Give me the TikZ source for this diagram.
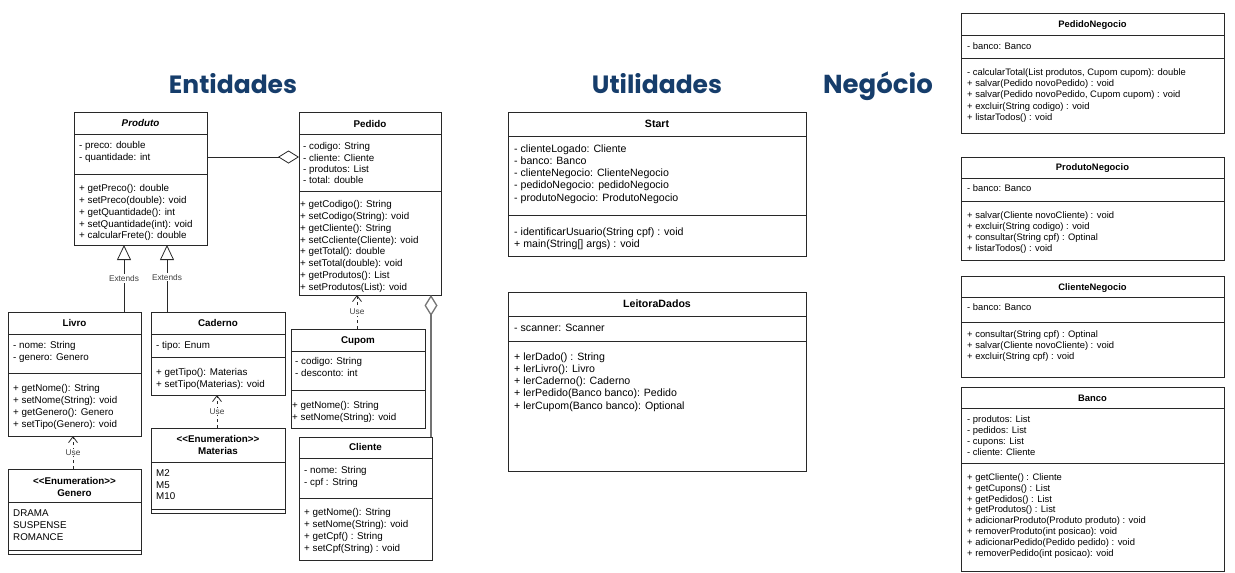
\documentclass[tikz,border=0pt]{standalone}
\usepackage{fontspec}
\setmainfont{Liberation Sans}
\newfontfamily\titlefont{Poppins}
\usetikzlibrary{arrows.meta}
\definecolor{ttlblue}{RGB}{22,61,107}
\definecolor{lncol}{RGB}{40,40,40}
\newcommand\umlbox[7]{%
  \node[cbox, minimum width={#3-#2}, minimum height={#7-#4}] (#1) at (#2,#4) {};
  \draw[sep] (#2,#5) -- (#3,#5);
  \draw[sep] (#2,#6) -- (#3,#6);
}
\newcommand\enumhdr{<\kern0pt<Enumeration>\kern0pt>}
\begin{document}
\begin{tikzpicture}[x=1pt,y=-1pt,
  cbox/.style={draw=lncol, line width=0.8pt, fill=white, anchor=north west, inner sep=0pt, outer sep=0pt},
  sep/.style={draw=lncol, line width=0.8pt},
  fE/.style={font=\fontsize{9.8}{11.8}\selectfont},
  fS/.style={font=\fontsize{10.6}{12.2}\selectfont},
  fN/.style={font=\fontsize{9.4}{11}\selectfont},
  txt/.style={anchor=north west, inner sep=0pt, align=left, execute at begin node={\rule{0pt}{7.2pt}}},
  hdr/.style={anchor=base, inner sep=0pt, align=center},
  hdr2/.style={anchor=north, inner sep=0pt, align=center, execute at begin node={\rule{0pt}{7.2pt}}},
  sectitle/.style={anchor=base, inner sep=0pt, text=ttlblue, font=\titlefont\bfseries\fontsize{25}{25}\selectfont},
  conn/.style={draw=lncol, line width=0.8pt},
  ext/.style={conn, -{Triangle[open, length=15pt, width=14pt]}},
  agg/.style={conn, -{Diamond[open, length=21pt, width=13pt]}},
  use/.style={conn, dash pattern=on 3pt off 3pt, -{Straight Barb[length=6pt, width=9pt]}},
  lbl/.style={fill=white, inner sep=1pt, text=black!75, font=\fontsize{8.3}{9}\selectfont},
]
\useasboundingbox (0,0) rectangle (1235,573);

% section titles
\node[sectitle] (tEnt) at (233,93) {Entidades};
\node[sectitle] (tUti) at (657,93) {Utilidades};
\node[sectitle, font=\titlefont\bfseries\fontsize{26}{26}\selectfont] (tNeg) at (878,93) {Negócio};

% ---------- Produto
\umlbox{produto}{74}{207}{112}{134}{174}{245}
\node[hdr, fE] (produto-t) at (140.5,126.5) {\textbf{\textit{Produto}}};
\node[txt, fE] (produto-a) at (79,141.4) {- preco: double\\- quantidade: int};
\node[txt, fE] (produto-m) at (79,184.4) {+ getPreco(): double\\+ setPreco(double): void\\+ getQuantidade(): int\\+ setQuantidade(int): void\\+ calcularFrete(): double};

% ---------- Pedido
\umlbox{pedido}{299}{441}{112}{134}{191}{295}
\node[hdr, fE] (pedido-t) at (370,127.5) {\textbf{Pedido}};
\node[txt, fE, font=\fontsize{9.8}{11.3}\selectfont] (pedido-a) at (303,142.4) {- codigo: String\\- cliente: Cliente\\- produtos: List\\- total: double};
\node[txt, fE] (pedido-m) at (300,200.4) {+ getCodigo(): String\\+ setCodigo(String): void\\+ getCliente(): String\\+ setCcliente(Cliente): void\\+ getTotal(): double\\+ setTotal(double): void\\+ getProdutos(): List\\+ setProdutos(List): void};

% ---------- Livro
\umlbox{livro}{8}{141}{312}{334}{373}{436}
\node[hdr, fE] (livro-t) at (74.5,326.5) {\textbf{Livro}};
\node[txt, fE] (livro-a) at (13,341.4) {- nome: String\\- genero: Genero};
\node[txt, fE] (livro-m) at (13,384.4) {+ getNome(): String\\+ setNome(String): void\\+ getGenero(): Genero\\+ setTipo(Genero): void};

% ---------- Caderno
\umlbox{caderno}{151}{285}{312}{334}{357}{395}
\node[hdr, fE] (caderno-t) at (218,326.5) {\textbf{Caderno}};
\node[txt, fE] (caderno-a) at (156,341.4) {- tipo: Enum};
\node[txt, fE] (caderno-m) at (156,368.4) {+ getTipo(): Materias\\+ setTipo(Materias): void};

% ---------- Genero
\umlbox{genero}{8}{141}{469}{502}{550}{554}
\node[hdr2, fE, font=\fontsize{9.8}{11.5}\selectfont] (genero-t) at (74.5,477.4) {\textbf{\enumhdr}\\\textbf{Genero}};
\node[txt, fE, font=\fontsize{9.8}{12}\selectfont] (genero-v) at (13,509.4) {DRAMA\\SUSPENSE\\ROMANCE};

% ---------- Materias
\umlbox{materias}{151}{285}{428}{462}{509}{513}
\node[hdr2, fE, font=\fontsize{9.8}{11.8}\selectfont] (materias-t) at (218,435.4) {\textbf{\enumhdr}\\\textbf{Materias}};
\node[txt, fE, font=\fontsize{9.8}{11.6}\selectfont] (materias-v) at (156,469.4) {M2\\M5\\M10};

% ---------- Cupom
\umlbox{cupom}{291}{425}{329}{351}{390}{428}
\node[hdr, fE] (cupom-t) at (358,343.5) {\textbf{Cupom}};
\node[txt, fE] (cupom-a) at (295,357.4) {- codigo: String\\- desconto: int};
\node[txt, fE] (cupom-m) at (292,401.4) {+ getNome(): String\\+ setNome(String): void};

% ---------- Cliente
\umlbox{cliente}{299}{432}{437}{458}{498}{560}
\node[hdr, fE] (cliente-t) at (365.5,450.5) {\textbf{Cliente}};
\node[txt, fE, font=\fontsize{9.8}{11.3}\selectfont] (cliente-a) at (304,466.4) {- nome: String\\- cpf : String};
\node[txt, fE] (cliente-m) at (304,508.4) {+ getNome(): String\\+ setNome(String): void\\+ getCpf() : String\\+ setCpf(String) : void};

% ---------- Start
\umlbox{start}{508}{806}{112}{136}{215}{256}
\node[hdr, fS] (start-t) at (657,127.8) {\textbf{Start}};
\node[txt, fS] (start-a) at (514,144.4) {- clienteLogado: Cliente\\- banco: Banco\\- clienteNegocio: ClienteNegocio\\- pedidoNegocio: pedidoNegocio\\- produtoNegocio: ProdutoNegocio};
\node[txt, fS] (start-m) at (514,227.4) {- identificarUsuario(String cpf) : void\\+ main(String[] args) : void};

% ---------- LeitoraDados
\umlbox{leitora}{508}{806}{292}{316}{341}{471}
\node[hdr, fS] (leitora-t) at (657,307.8) {\textbf{LeitoraDados}};
\node[txt, fS] (leitora-a) at (514,323.4) {- scanner: Scanner};
\node[txt, fS] (leitora-m) at (514,352.4) {+ lerDado() : String\\+ lerLivro(): Livro\\+ lerCaderno(): Caderno\\+ lerPedido(Banco banco): Pedido\\+ lerCupom(Banco banco): Optional};

% ---------- PedidoNegocio
\umlbox{pedneg}{961}{1224}{13}{35}{58}{133}
\node[hdr, fN] (pedneg-t) at (1092.5,27.3) {\textbf{PedidoNegocio}};
\node[txt, fN] (pedneg-a) at (967,42.4) {- banco: Banco};
\node[txt, fN, font=\fontsize{9.4}{11.2}\selectfont] (pedneg-m) at (967,68.4) {- calcularTotal(List produtos, Cupom cupom): double\\+ salvar(Pedido novoPedido) : void\\+ salvar(Pedido novoPedido, Cupom cupom) : void\\+ excluir(String codigo) : void\\+ listarTodos() : void};

% ---------- ProdutoNegocio
\umlbox{prodneg}{961}{1224}{157}{178}{201}{260}
\node[hdr, fN] (prodneg-t) at (1092.5,170.3) {\textbf{ProdutoNegocio}};
\node[txt, fN] (prodneg-a) at (967,184.4) {- banco: Banco};
\node[txt, fN] (prodneg-m) at (967,211.4) {+ salvar(Cliente novoCliente) : void\\+ excluir(String codigo) : void\\+ consultar(String cpf) : Optinal\\+ listarTodos() : void};

% ---------- ClienteNegocio
\umlbox{clineg}{961}{1224}{276}{297}{322}{377}
\node[hdr, fN] (clineg-t) at (1092.5,290.3) {\textbf{ClienteNegocio}};
\node[txt, fN] (clineg-a) at (967,303.4) {- banco: Banco};
\node[txt, fN] (clineg-m) at (967,330.4) {+ consultar(String cpf) : Optinal\\+ salvar(Cliente novoCliente) : void\\+ excluir(String cpf) : void};

% ---------- Banco
\umlbox{banco}{961}{1224}{387}{408}{463}{571}
\node[hdr, fN] (banco-t) at (1092.5,401.3) {\textbf{Banco}};
\node[txt, fN] (banco-a) at (967,415.4) {- produtos: List\\- pedidos: List\\- cupons: List\\- cliente: Cliente};
\node[txt, fN, font=\fontsize{9.4}{10.8}\selectfont] (banco-m) at (967,473.4) {+ getCliente() : Cliente\\+ getCupons() : List\\+ getPedidos() : List\\+ getProdutos() : List\\+ adicionarProduto(Produto produto) : void\\+ removerProduto(int posicao): void\\+ adicionarPedido(Pedido pedido) : void\\+ removerPedido(int posicao): void};

% ---------- connectors
\coordinate (pp) at ([yshift=-45pt]produto.north east);
\draw[agg] (pp) -- (pp -| pedido.west);

\coordinate (le) at ([xshift=-17pt]livro.north east);
\draw[ext] (le) -- (le |- produto.south) node[lbl, pos=0.5] (lbl1) {Extends};
\coordinate (ce) at ([xshift=16pt]caderno.north west);
\draw[ext] (ce) -- (ce |- produto.south) node[lbl, pos=0.52] (lbl2) {Extends};

\coordinate (gu) at ([xshift=-1.5pt]genero.north);
\draw[use] (gu) -- (gu |- livro.south) node[lbl, pos=0.5] (lbl3) {Use};
\coordinate (mu) at ([xshift=-1pt]materias.north);
\draw[use] (mu) -- (mu |- caderno.south) node[lbl, pos=0.5] (lbl4) {Use};
\coordinate (cu) at ([xshift=-1pt]cupom.north);
\draw[use] (cu) -- (cu |- pedido.south) node[lbl, pos=0.5] (lbl5) {Use};

\coordinate (ca) at ([xshift=-1pt]cliente.north east);
\draw[agg, draw=black!55, line width=1.3pt] (ca) -- (ca |- pedido.south);
\end{tikzpicture}
\end{document}
